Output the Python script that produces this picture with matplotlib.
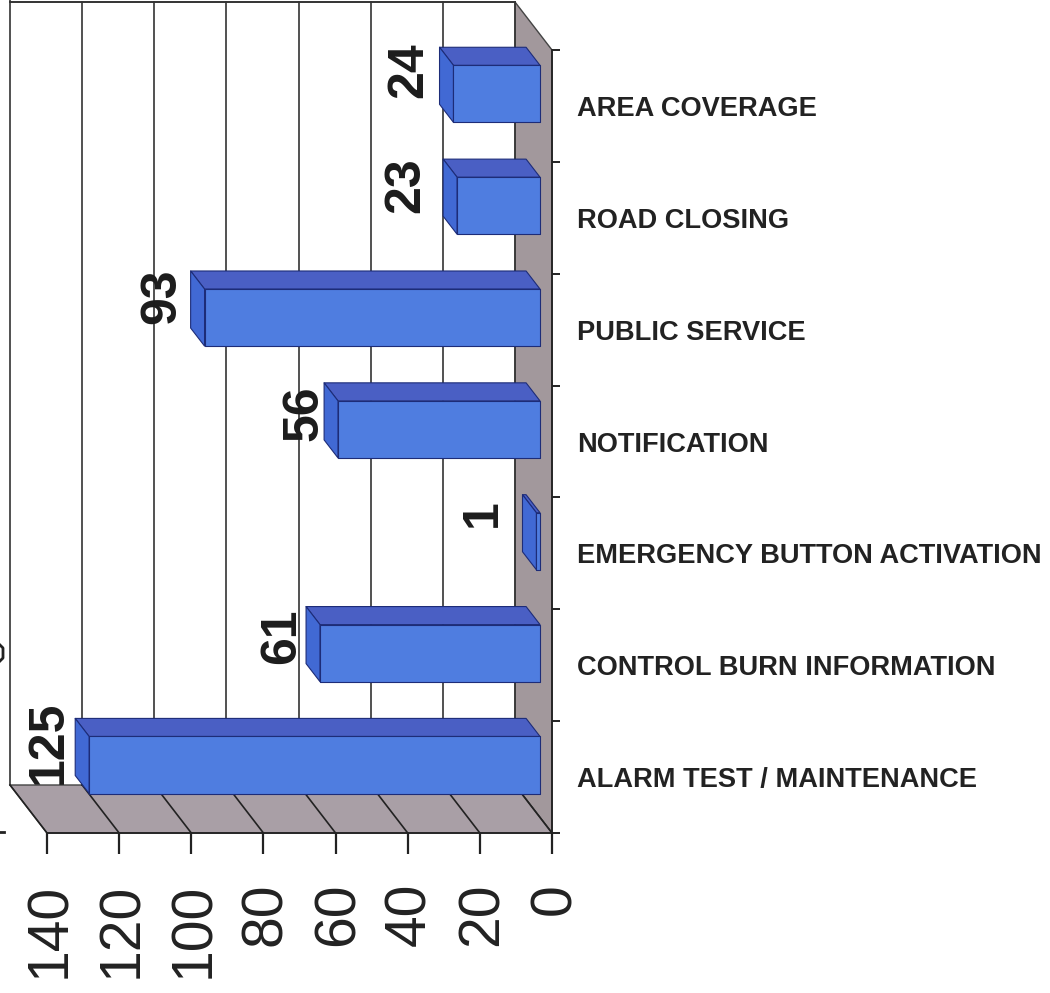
import numpy as np
import matplotlib
matplotlib.use("Agg")
import matplotlib.pyplot as plt
from matplotlib.patches import Polygon
from matplotlib.transforms import Bbox, TransformedBbox, ScaledTranslation

categories = ["ALARM TEST / MAINTENANCE", "CONTROL BURN INFORMATION",
              "EMERGENCY BUTTON ACTIVATION", "NOTIFICATION", "PUBLIC SERVICE",
              "ROAD CLOSING", "AREA COVERAGE"]
values = [125, 61, 1, 56, 93, 23, 24]
value_ticks = [0, 20, 40, 60, 80, 100, 120, 140]

# label nudges relative to the bar, in pixels (style only)
label_gaps = [3, 1, 17, -3, 5, 14, 7]
label_lifts = [5, -1, 10, -2, 3, 2, 6]

W, H = 1050, 993
plt.rcParams['font.family'] = ['Liberation Sans', 'DejaVu Sans']
fig = plt.figure(figsize=(W / 100, H / 100), dpi=100, facecolor='white')
L, R, T, B = 47, 552, 50, 833
ax = fig.add_axes([L / W, 1 - B / H, (R - L) / W, (B - T) / H])
ax.set_facecolor('none')
ax.set_xlim(140, 0)
ax.set_ylim(0, 7)

DX = 37 / ((R - L) / 140)   # depth shift in value units
DY = 48 / ((B - T) / 7)     # depth shift in category units

def pt(v, c, d):
    return (v + DX * d, c + DY * d)

def poly(points, fc, ec='#2a2a2a', lw=0.8, z=1):
    ax.add_patch(Polygon(points, closed=True, facecolor=fc, edgecolor=ec,
                         linewidth=lw, zorder=z, clip_on=False, joinstyle='round'))

# walls
WALL = '#a2989c'
FLOOR = '#a99fa6'
ax.plot(*zip(pt(0, 7, 1), pt(140, 7, 1)), color='#333333', lw=1.4, clip_on=False, zorder=1)
poly([pt(0, 0, 1), pt(0, 7, 1), pt(0, 7, 0), pt(0, 0, 0)], WALL, ec='#444444', lw=1, z=1)
poly([pt(0, 0, 0), pt(0, 0, 1), pt(140, 0, 1), pt(140, 0, 0)], FLOOR, ec='#444444', lw=1, z=1)

# gridlines on back wall and floor
for t in value_ticks:
    top = 7.07 if t == 140 else 7
    ax.plot(*zip(pt(t, 0, 1), pt(t, top, 1)), color='#333333', lw=1.2, clip_on=False, zorder=1.5)
    ax.plot(*zip(pt(t, 0, 0), pt(t, 0, 1)), color='#222222', lw=1.2, clip_on=False, zorder=1.5)

# bars
FRONT, BACK = 0.324, 0.70
GAP, HEIGHT = 0.214, 0.51
for i, (v, gap, lift) in enumerate(zip(values, label_gaps, label_lifts)):
    lo, hi = i + GAP, i + GAP + HEIGHT
    poly([pt(0, hi, FRONT), pt(0, hi, BACK), pt(v, hi, BACK), pt(v, hi, FRONT)], '#4a5fc4', ec='#1d2c78', z=3)
    poly([pt(v, lo, FRONT), pt(v, hi, FRONT), pt(v, hi, BACK), pt(v, lo, BACK)], '#4169d4', ec='#1d2c78', z=3)
    poly([pt(0, lo, FRONT), pt(0, hi, FRONT), pt(v, hi, FRONT), pt(v, lo, FRONT)], '#4f7de0', ec='#1d2c78', z=4)
    ax.annotate(str(v), xy=pt(v, (lo + hi) / 2, BACK), xytext=(-gap, lift), textcoords='offset pixels',
                rotation=90, ha='right', va='center', fontsize=36, fontweight='bold',
                color='#1c1c1c', zorder=6, annotation_clip=False)

# axes
for s in ('left', 'top'):
    ax.spines[s].set_visible(False)
for s in ('right', 'bottom'):
    ax.spines[s].set_linewidth(1.3)
    ax.spines[s].set_color('#222222')
    ax.spines[s].set_zorder(5)

ax.set_xticks(value_ticks)
ax.set_xticklabels([str(t) for t in value_ticks], rotation=90, fontsize=41, color='#222222')
ax.tick_params(axis='x', length=15, width=1.6, pad=21, color='#222222')
ax.yaxis.tick_right()
ax.set_yticks(np.arange(8))
ax.set_yticklabels([])
ax.set_yticks(np.arange(7) + 0.5, categories, minor=True)
ax.tick_params(axis='y', which='major', length=6, width=1.4, color='#222222')
ax.tick_params(axis='y', which='minor', length=0, pad=18, labelsize=19.6)
for lab in ax.get_yticklabels(minor=True):
    lab.set_fontweight('bold')
    lab.set_color('#222222')

clip = TransformedBbox(Bbox([[0, 1 - 984 / H], [1, 1]]), fig.transFigure)
shift = ScaledTranslation(3 / 100, 0, fig.dpi_scale_trans)
for lab in ax.get_xticklabels():
    lab.set_transform(lab.get_transform() + shift)
    lab.set_clip_box(clip)
    lab.set_clip_on(True)

# clipped remnants of scan at the left edge
fig.add_artist(plt.Line2D([0, 4 / W], [1 - 832 / H] * 2, color='#222222', lw=2))
fig.add_artist(plt.Line2D([0, 3 / W, 3 / W, 0], [1 - 645 / H, 1 - 648 / H, 1 - 658 / H, 1 - 661 / H], color='#222222', lw=2))

fig.savefig('out.png', dpi=100)
